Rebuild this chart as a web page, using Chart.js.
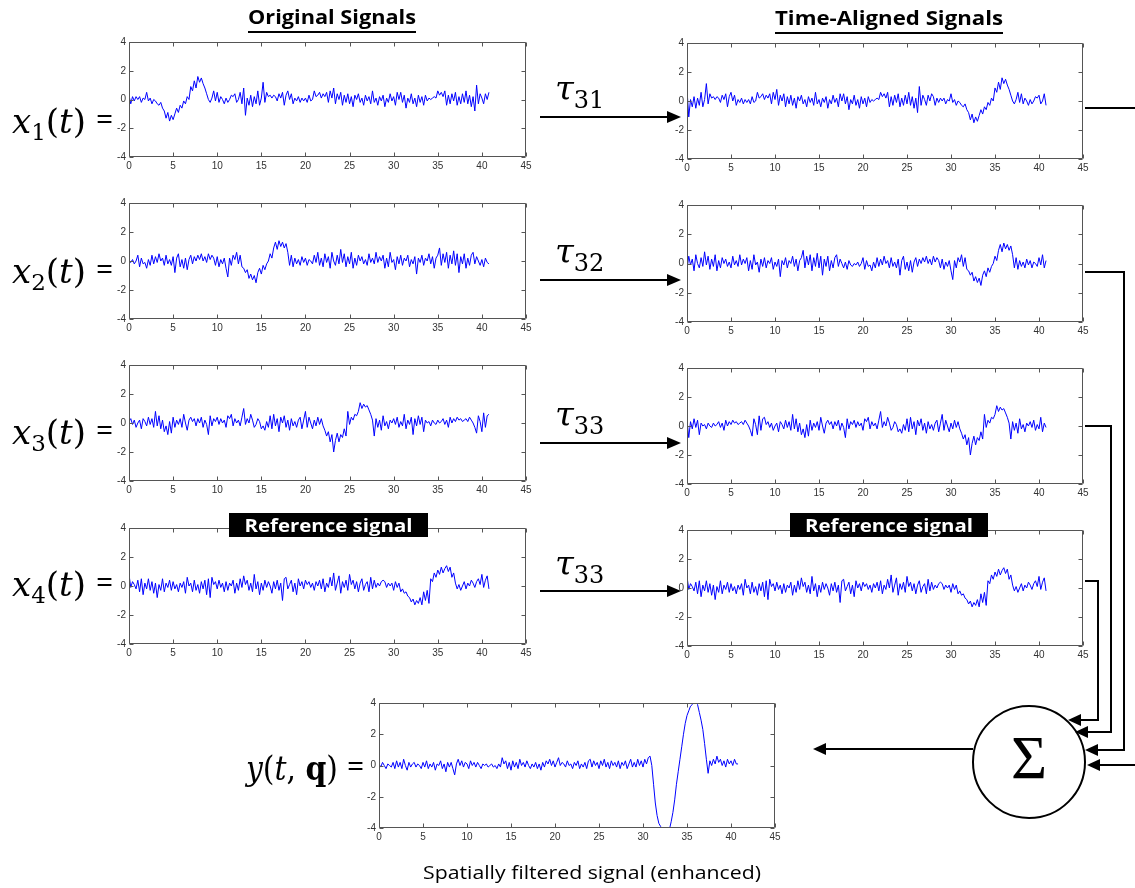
<!DOCTYPE html>
<html>
<head>
<meta charset="utf-8">
<title>Original vs time-aligned signals</title>
<script src="https://cdn.jsdelivr.net/npm/chart.js@4.4.1/dist/chart.umd.min.js"></script>
<style>
  html, body { margin: 0; padding: 0; background: #fff; }
  #page { position: relative; width: 1135px; height: 888px; overflow: hidden; background: #fff; }
  #page canvas { position: absolute; }
  #diagram { position: absolute; left: 0; top: 0; pointer-events: none; }
</style>
</head>
<body>
<div id="page">
  <canvas id="orig1"></canvas>
  <canvas id="orig2"></canvas>
  <canvas id="orig3"></canvas>
  <canvas id="orig4"></canvas>
  <canvas id="aligned1"></canvas>
  <canvas id="aligned2"></canvas>
  <canvas id="aligned3"></canvas>
  <canvas id="aligned4"></canvas>
  <canvas id="filtered"></canvas>

  <svg id="diagram" width="1135" height="888">
    <!-- column titles -->
    <g font-family="Open Sans" font-weight="700" font-size="19" fill="#000">
      <text x="248" y="24" textLength="168" lengthAdjust="spacingAndGlyphs">Original Signals</text>
      <text x="775" y="25" textLength="228" lengthAdjust="spacingAndGlyphs">Time-Aligned Signals</text>
    </g>
    <rect x="248" y="31" width="168" height="2" fill="#000"/>
    <rect x="775" y="32" width="228" height="2" fill="#000"/>

    <!-- reference badges -->
    <rect x="229" y="513" width="199" height="24" fill="#000"/>
    <rect x="790" y="513" width="198" height="24" fill="#000"/>
    <g font-family="Open Sans" font-weight="700" font-size="17" fill="#fff" text-anchor="middle">
      <text x="328.5" y="532" textLength="168" lengthAdjust="spacingAndGlyphs">Reference signal</text>
      <text x="889" y="532" textLength="168" lengthAdjust="spacingAndGlyphs">Reference signal</text>
    </g>

    <!-- row labels -->
    <g font-family="DejaVu Serif" font-size="34" fill="#000">
      <text x="12" y="133"><tspan font-style="italic">x</tspan><tspan font-size="23" dy="7">1</tspan><tspan dy="-7">(</tspan><tspan font-style="italic">t</tspan>)</text>
      <text x="12" y="283"><tspan font-style="italic">x</tspan><tspan font-size="23" dy="7">2</tspan><tspan dy="-7">(</tspan><tspan font-style="italic">t</tspan>)</text>
      <text x="12" y="444"><tspan font-style="italic">x</tspan><tspan font-size="23" dy="7">3</tspan><tspan dy="-7">(</tspan><tspan font-style="italic">t</tspan>)</text>
      <text x="12" y="596"><tspan font-style="italic">x</tspan><tspan font-size="23" dy="7">4</tspan><tspan dy="-7">(</tspan><tspan font-style="italic">t</tspan>)</text>
      <text x="246" y="780" textLength="92" lengthAdjust="spacingAndGlyphs"><tspan font-style="italic">y</tspan>(<tspan font-style="italic">t</tspan>, <tspan font-weight="bold">q</tspan>)</text>
    </g>
    <g font-family="Open Sans" font-size="30" fill="#000">
      <text x="96" y="129">=</text>
      <text x="96" y="279">=</text>
      <text x="96" y="440">=</text>
      <text x="96" y="592">=</text>
      <text x="347" y="776">=</text>
    </g>

    <!-- delays -->
    <g font-family="DejaVu Serif" font-size="34" fill="#000">
      <text x="555" y="100"><tspan font-style="italic">τ</tspan><tspan font-size="24" dy="8">31</tspan></text>
      <text x="555" y="263"><tspan font-style="italic">τ</tspan><tspan font-size="24" dy="8">32</tspan></text>
      <text x="555" y="426"><tspan font-style="italic">τ</tspan><tspan font-size="24" dy="8">33</tspan></text>
      <text x="555" y="575"><tspan font-style="italic">τ</tspan><tspan font-size="24" dy="8">33</tspan></text>
    </g>

    <!-- wiring -->
    <g stroke="#000" stroke-width="2" fill="none">
      <path d="M540 117H668"/>
      <path d="M540 280H668"/>
      <path d="M540 443H668"/>
      <path d="M540 591H668"/>
      <path d="M1085 108H1135"/>
      <path d="M1085 272H1124V750H1096"/>
      <path d="M1085 426H1111V732H1087"/>
      <path d="M1085 581H1098V720H1080"/>
      <path d="M1135 765H1098"/>
      <path d="M973 749H825"/>
      <circle cx="1029" cy="762" r="56"/>
    </g>
    <g fill="#000">
      <polygon points="667,111 681,117 667,123"/>
      <polygon points="667,274 681,280 667,286"/>
      <polygon points="667,437 681,443 667,449"/>
      <polygon points="667,585 681,591 667,597"/>
      <polygon points="1098,744 1085,750 1098,756"/>
      <polygon points="1088,726 1075,732 1088,738"/>
      <polygon points="1081,714 1068,720 1081,726"/>
      <polygon points="1100,759 1087,765 1100,771"/>
      <polygon points="826,743 813,749 826,755"/>
    </g>
    <text x="1029" y="778" text-anchor="middle" font-family="Liberation Serif" font-size="62" fill="#000">Σ</text>

    <text x="423" y="879" font-family="Open Sans" font-size="19" fill="#000" textLength="338" lengthAdjust="spacingAndGlyphs">Spatially filtered signal (enhanced)</text>
  </svg>
</div>

<script>
/**************************************
 *              DATA
 **************************************/
const TIME_STEP = 0.2;   // seconds between samples
const X_TICKS = [0, 5, 10, 15, 20, 25, 30, 35, 40, 45];
const Y_TICKS = [-4, -2, 0, 2, 4];

const x1Original = [
  0.3,-0.3,0.2,-0.1,0.2, 0.0,0.2,-0.2,0.1,0.0,
  0.5,-0.1,0.1,-0.3,0.0, -0.1,-0.3,-0.4,-0.2,-0.6,
  -0.8,-1.3,-0.9,-1.5,-1.1, -1.4,-1.0,-0.6,-0.9,-0.4,
  -0.6,-0.1,-0.3,0.2,0.0, 0.9,0.6,1.3,0.8,1.6,
  1.2,1.5,1.1,0.8,0.4, 0.0,-0.2,0.1,0.6,-0.1,
  0.5,-0.2,0.2,0.0,-0.3, 0.1,-0.2,0.0,0.3,0.2,
  0.4,-0.2,0.0,0.5,-0.3, 0.8,-1.1,0.1,-0.4,0.3,
  -0.5,0.2,-0.3,0.6,-0.4, 0.1,1.2,-0.2,0.5,0.2,
  0.3,0.1,0.3,0.2,-0.1, 0.4,0.1,0.5,-0.4,0.3,
  0.6,0.0,0.4,-0.3,0.1, -0.1,0.2,-0.2,0.1,-0.1,
  0.1,-0.2,0.3,-0.1,0.0, 0.6,0.2,0.3,0.5,0.1,
  0.4,0.2,0.5,-0.2,0.6, 0.1,0.8,-0.3,0.4,0.0,
  0.5,-0.4,0.3,-0.2,0.4, -0.3,0.2,-0.5,0.3,0.0,
  0.4,-0.2,0.1,-0.4,0.3, -0.1,0.2,-0.3,0.6,-0.2,
  0.1,-0.4,0.2,-0.1,0.3, -0.5,0.1,-0.2,0.4,-0.1,
  0.2,-0.4,0.5,0.0,0.5, -0.2,0.3,-0.6,0.1,-0.2,
  0.4,-0.3,0.1,-0.5,0.3, -0.2,0.2,-0.4,0.3,-0.1,
  0.1,0.0,0.1,0.2,0.1, 0.6,0.3,0.5,0.2,0.6,
  -0.4,0.3,-0.3,0.4,-0.1, 0.5,-0.4,0.2,-0.3,0.4,
  -0.2,0.6,-0.3,0.3,-0.5, 0.2,-0.8,1.0,-0.3,0.4,
  0.1,-0.3,0.4,0.0,0.5
];

const x2Original = [
  0.0,-0.1,0.1,-0.2,0.0, 0.4,-0.4,0.2,-0.2,-0.1,
  -0.5,0.1,-0.3,0.4,-0.2, 0.3,-0.1,0.5,0.0,0.2,
  -0.3,0.4,-0.2,0.1,-0.3, 0.3,-0.8,0.2,0.5,-0.4,
  0.1,-0.5,0.2,-0.6,0.1, 0.4,-0.2,0.3,0.0,0.4,
  0.1,0.5,0.0,0.3,-0.1, 0.5,0.1,0.4,0.2,-0.3,
  0.3,-0.4,0.1,-0.2,0.2, -0.5,-1.1,0.2,-0.3,0.4,
  0.1,0.6,-0.2,0.4,-0.4, -0.5,-0.8,-0.6,-1.2,-0.9,
  -1.3,-1.0,-1.5,-0.8,-0.5, -0.9,-0.3,-0.6,-0.2,0.0,
  0.5,0.2,0.9,1.3,0.8, 1.4,1.0,1.3,0.9,1.2,
  0.6,-0.3,0.4,-0.4,0.2, -0.2,0.1,-0.3,0.3,-0.1,
  0.2,-0.3,0.1,0.0,-0.2, 0.4,-0.1,0.6,-0.3,0.2,
  -0.4,0.5,-0.1,0.3,-0.5, 0.6,0.0,-0.3,0.4,-0.2,
  0.8,-0.1,0.5,-0.4,0.3, -0.2,0.6,-0.5,0.2,-0.3,
  0.4,0.0,0.3,-0.2,0.1, -0.3,0.5,-0.1,0.2,-0.2,
  0.6,-0.1,0.3,0.0,0.4, -0.5,0.2,-0.4,0.6,-0.1,
  0.1,-0.6,0.3,-0.2,0.4, -0.3,0.2,0.0,0.4,-0.4,
  0.1,-0.2,0.3,-0.9,0.2, -0.1,0.4,-0.3,0.2,0.0,
  0.5,-0.2,0.3,-0.5,0.2, 0.4,0.9,-0.3,0.5,-0.1,
  0.6,-0.5,0.4,-0.2,0.7, -0.3,0.5,-0.8,0.3,-0.2,
  0.5,-0.5,0.2,-0.3,0.4, 0.6,-0.2,0.3,0.0,-0.3,
  0.1,-0.4,0.2,-0.1,-0.2
];

const x3Original = [
  0.1,0.3,-0.1,0.2,-0.3, 0.0,0.2,-0.4,0.3,0.1,
  -0.2,0.4,-0.1,0.3,-0.3, 0.8,-0.2,0.5,-0.4,0.2,
  -0.6,-0.2,-0.8,0.1,-0.7, 0.4,-0.3,0.2,-0.1,0.3,
  -0.3,0.6,0.0,-0.5,0.2, 0.4,0.1,0.3,-0.2,0.3,
  0.0,0.4,-0.3,0.2,-0.1, -0.8,0.5,-0.2,0.3,0.1,
  0.4,-0.1,0.3,0.0,0.2, -0.3,0.5,0.3,0.6,-0.2,
  0.3,0.0,0.2,-0.2,0.4, 1.0,-0.1,0.3,0.0,0.6,
  0.2,-0.3,-0.1,0.3,0.1, -0.4,-0.2,-0.5,0.1,-0.3,
  0.5,-0.4,0.6,-0.2,0.3, -0.6,0.4,0.0,0.5,-0.3,
  0.2,-0.5,0.3,-0.2,0.1, -0.3,0.2,0.4,-0.4,0.2,
  0.8,-0.3,0.4,0.0,-0.4, 0.2,-0.2,0.4,-0.1,0.3,
  -0.2,-0.5,-0.9,-0.6,-1.3, -0.8,-2.0,-1.2,-0.7,-1.3,
  -0.8,-1.0,-0.4,-0.9,0.8, -0.1,0.4,0.2,0.6,0.5,
  0.8,1.4,1.0,1.3,1.1, 1.2,0.9,0.6,0.2,-0.9,
  0.3,-0.3,0.2,-0.5,0.5, -0.2,0.1,-0.4,0.2,0.0,
  0.3,-0.1,0.4,-0.3,0.1, -0.2,0.6,-0.4,0.2,-0.1,
  0.4,-0.8,0.3,-0.2,0.5, -0.1,0.4,-0.6,0.2,0.0,
  0.1,-0.2,0.2,0.0,-0.1, 0.2,0.0,0.1,0.3,-0.1,
  0.2,-0.3,0.4,0.0,0.3, 0.1,0.4,0.2,0.3,0.1,
  0.2,0.3,0.1,0.4,0.2, 0.0,-0.3,-0.7,0.5,0.1,
  -0.6,0.7,-0.3,0.5,0.6
];

// x4 is the reference: it is the same before and after alignment
const x4Reference = [
  0.8,-0.1,0.3,0.1,-0.2, 0.4,-0.4,0.5,-0.6,0.2,
  -0.2,0.5,-0.3,0.3,-0.5, 0.2,-0.8,0.1,-0.3,0.5,
  -0.4,0.2,-0.1,0.4,-0.3, 0.3,-0.2,0.1,-0.4,0.2,
  -0.1,0.3,-0.5,0.6,0.0, 0.2,-0.4,0.4,-0.3,0.1,
  -0.5,0.3,-0.2,0.4,-0.6, 0.5,-0.8,0.6,0.1,0.3,
  -0.2,0.4,-0.1,0.2,-0.4, 0.3,-0.3,0.2,0.0,0.4,
  -0.5,0.2,-0.3,0.5,-0.1, 0.7,0.1,0.4,-0.3,0.2,
  -0.4,0.8,-0.2,0.3,-0.6, 0.2,-0.3,0.4,-0.1,0.3,
  0.0,-0.5,0.3,-0.2,0.4, -0.3,0.2,-1.0,0.5,0.6,
  -0.2,0.1,0.4,-0.4,0.2, -0.6,0.5,0.0,0.3,-0.2,
  0.4,0.1,0.3,-0.1,0.2, -0.3,0.3,0.0,0.4,-0.2,
  0.5,-0.4,0.2,-0.1,0.6, 0.0,0.9,-0.3,0.2,0.7,
  -0.5,0.3,-0.1,0.4,-0.3, 0.8,0.1,0.4,-0.2,0.3,
  -0.4,0.2,0.5,-0.3,0.1, 0.3,-0.4,0.6,-0.2,0.4,
  -0.1,0.2,0.0,0.3,0.4, 0.3,-0.1,0.2,0.0,0.2,
  -0.3,0.3,-0.1,0.2,-0.4, -0.2,-0.5,-0.4,-0.7,-0.8,
  -1.1,-0.9,-1.3,-1.0,-1.2, -0.8,-1.3,-0.4,-1.0,-0.3,
  -1.2,0.5,0.3,0.9,0.6, 1.1,0.8,1.3,0.9,1.2,
  1.4,1.0,1.3,0.6,0.9, 0.2,-0.2,0.1,-0.3,0.0,
  0.3,-0.2,0.2,0.0,0.4, 0.2,-0.1,0.3,0.5,0.1,
  0.8,-0.1,0.4,0.7,-0.2
];

const x1Aligned = [
  0.8,-1.1,0.1,-0.4,0.3, -0.5,0.2,-0.3,0.6,-0.4,
  0.1,1.2,-0.2,0.5,0.2, 0.3,0.1,0.3,0.2,-0.1,
  0.4,0.1,0.5,-0.4,0.3, 0.6,0.0,0.4,-0.3,0.1,
  -0.1,0.2,-0.2,0.1,-0.1, 0.1,-0.2,0.3,-0.1,0.0,
  0.6,0.2,0.3,0.5,0.1, 0.4,0.2,0.5,-0.2,0.6,
  0.1,0.8,-0.3,0.4,0.0, 0.5,-0.4,0.3,-0.2,0.4,
  -0.3,0.2,-0.5,0.3,0.0, 0.4,-0.2,0.1,-0.4,0.3,
  -0.1,0.2,-0.3,0.6,-0.2, 0.1,-0.4,0.2,-0.1,0.3,
  -0.5,0.1,-0.2,0.4,-0.1, 0.2,-0.4,0.5,0.0,0.5,
  -0.2,0.3,-0.6,0.1,-0.2, 0.4,-0.3,0.1,-0.5,0.3,
  -0.2,0.2,-0.4,0.3,-0.1, 0.1,0.0,0.1,0.2,0.1,
  0.6,0.3,0.5,0.2,0.6, -0.4,0.3,-0.3,0.4,-0.1,
  0.5,-0.4,0.2,-0.3,0.4, -0.2,0.6,-0.3,0.3,-0.5,
  0.2,-0.8,1.0,-0.3,0.4, 0.1,-0.3,0.4,0.0,0.5,
  0.3,-0.3,0.2,-0.1,0.2, 0.0,0.2,-0.2,0.1,0.0,
  0.5,-0.1,0.1,-0.3,0.0, -0.1,-0.3,-0.4,-0.2,-0.6,
  -0.8,-1.3,-0.9,-1.5,-1.1, -1.4,-1.0,-0.6,-0.9,-0.4,
  -0.6,-0.1,-0.3,0.2,0.0, 0.9,0.6,1.3,0.8,1.6,
  1.2,1.5,1.1,0.8,0.4, 0.0,-0.2,0.1,0.6,-0.1,
  0.5,-0.2,0.2,0.0,-0.3, 0.1,-0.2,0.0,0.3,0.2,
  0.4,-0.2,0.0,0.5,-0.3
];

const x2Aligned = [
  -0.4,0.5,-0.1,0.3,-0.5, 0.6,0.0,-0.3,0.4,-0.2,
  0.8,-0.1,0.5,-0.4,0.3, -0.2,0.6,-0.5,0.2,-0.3,
  0.4,0.0,0.3,-0.2,0.1, -0.3,0.5,-0.1,0.2,-0.2,
  0.6,-0.1,0.3,0.0,0.4, -0.5,0.2,-0.4,0.6,-0.1,
  0.1,-0.6,0.3,-0.2,0.4, -0.3,0.2,0.0,0.4,-0.4,
  0.1,-0.2,0.3,-0.9,0.2, -0.1,0.4,-0.3,0.2,0.0,
  0.5,-0.2,0.3,-0.5,0.2, 0.4,0.9,-0.3,0.5,-0.1,
  0.6,-0.5,0.4,-0.2,0.7, -0.3,0.5,-0.8,0.3,-0.2,
  0.5,-0.5,0.2,-0.3,0.4, 0.6,-0.2,0.3,0.0,-0.3,
  0.1,-0.4,0.2,-0.1,-0.2, 0.0,-0.1,0.1,-0.2,0.0,
  0.4,-0.4,0.2,-0.2,-0.1, -0.5,0.1,-0.3,0.4,-0.2,
  0.3,-0.1,0.5,0.0,0.2, -0.3,0.4,-0.2,0.1,-0.3,
  0.3,-0.8,0.2,0.5,-0.4, 0.1,-0.5,0.2,-0.6,0.1,
  0.4,-0.2,0.3,0.0,0.4, 0.1,0.5,0.0,0.3,-0.1,
  0.5,0.1,0.4,0.2,-0.3, 0.3,-0.4,0.1,-0.2,0.2,
  -0.5,-1.1,0.2,-0.3,0.4, 0.1,0.6,-0.2,0.4,-0.4,
  -0.5,-0.8,-0.6,-1.2,-0.9, -1.3,-1.0,-1.5,-0.8,-0.5,
  -0.9,-0.3,-0.6,-0.2,0.0, 0.5,0.2,0.9,1.3,0.8,
  1.4,1.0,1.3,0.9,1.2, 0.6,-0.3,0.4,-0.4,0.2,
  -0.2,0.1,-0.3,0.3,-0.1, 0.2,-0.3,0.1,0.0,-0.2,
  0.4,-0.1,0.6,-0.3,0.2
];

const x3Aligned = [
  0.4,-0.8,0.3,-0.2,0.5, -0.1,0.4,-0.6,0.2,0.0,
  0.1,-0.2,0.2,0.0,-0.1, 0.2,0.0,0.1,0.3,-0.1,
  0.2,-0.3,0.4,0.0,0.3, 0.1,0.4,0.2,0.3,0.1,
  0.2,0.3,0.1,0.4,0.2, 0.0,-0.3,-0.7,0.5,0.1,
  -0.6,0.7,-0.3,0.5,0.6, 0.1,0.3,-0.1,0.2,-0.3,
  0.0,0.2,-0.4,0.3,0.1, -0.2,0.4,-0.1,0.3,-0.3,
  0.8,-0.2,0.5,-0.4,0.2, -0.6,-0.2,-0.8,0.1,-0.7,
  0.4,-0.3,0.2,-0.1,0.3, -0.3,0.6,0.0,-0.5,0.2,
  0.4,0.1,0.3,-0.2,0.3, 0.0,0.4,-0.3,0.2,-0.1,
  -0.8,0.5,-0.2,0.3,0.1, 0.4,-0.1,0.3,0.0,0.2,
  -0.3,0.5,0.3,0.6,-0.2, 0.3,0.0,0.2,-0.2,0.4,
  1.0,-0.1,0.3,0.0,0.6, 0.2,-0.3,-0.1,0.3,0.1,
  -0.4,-0.2,-0.5,0.1,-0.3, 0.5,-0.4,0.6,-0.2,0.3,
  -0.6,0.4,0.0,0.5,-0.3, 0.2,-0.5,0.3,-0.2,0.1,
  -0.3,0.2,0.4,-0.4,0.2, 0.8,-0.3,0.4,0.0,-0.4,
  0.2,-0.2,0.4,-0.1,0.3, -0.2,-0.5,-0.9,-0.6,-1.3,
  -0.8,-2.0,-1.2,-0.7,-1.3, -0.8,-1.0,-0.4,-0.9,0.8,
  -0.1,0.4,0.2,0.6,0.5, 0.8,1.4,1.0,1.3,1.1,
  1.2,0.9,0.6,0.2,-0.9, 0.3,-0.3,0.2,-0.5,0.5,
  -0.2,0.1,-0.4,0.2,0.0, 0.3,-0.1,0.4,-0.3,0.1,
  -0.2,0.6,-0.4,0.2,-0.1
];

const yFiltered = [
  0.1,-0.1,0.2,0.0,-0.2, 0.1,0.0,-0.1,0.2,-0.2,
  0.3,-0.1,0.2,-0.2,0.4, 0.0,-0.3,0.2,-0.1,0.1,
  0.2,-0.1,0.1,0.0,-0.2, 0.2,-0.1,0.3,-0.2,0.1,
  -0.1,0.2,-0.3,0.1,0.0, 0.3,-0.2,0.1,-0.4,0.2,
  -0.1,0.2,-0.2,-0.6,0.1, 0.4,0.0,0.3,-0.1,0.2,
  0.1,-0.2,0.3,0.0,0.2, -0.1,0.2,0.0,-0.2,0.1,
  0.0,0.1,-0.1,0.0,0.1, -0.1,0.0,-0.2,0.1,-0.1,
  0.5,0.1,0.3,-0.2,0.2, -0.3,0.3,-0.1,0.2,-0.2,
  0.4,0.0,0.2,-0.1,0.3, 0.0,-0.2,0.1,-0.1,0.2,
  -0.2,0.1,-0.3,0.2,-0.1, 0.3,0.1,0.4,0.0,0.3,
  -0.1,0.2,0.5,0.0,0.2, 0.1,-0.1,0.3,0.0,0.1,
  -0.2,0.2,0.0,0.3,-0.2, 0.1,-0.1,0.2,-0.2,0.3,
  0.4,-0.1,0.3,0.0,0.2, -0.2,0.3,0.0,0.4,-0.1,
  0.2,-0.2,0.3,0.0,0.2, -0.1,0.3,-0.2,0.2,0.0,
  0.3,-0.2,0.1,0.4,-0.1, 0.2,-0.1,0.4,0.0,0.3,
  -0.1,0.4,0.1,0.5,0.6, 0.0,-1.2,-2.4,-3.2,-3.7,
  -3.9,-4.1,-4.2,-4.2,-4.2, -4.1,-3.6,-3.0,-2.2,-1.2,
  -0.4,0.4,1.2,2.0,2.7, 3.2,3.5,3.8,3.9,4.1,
  4.2,3.9,3.4,2.9,2.3, 1.4,0.4,-0.5,0.3,0.0,
  0.4,0.1,0.6,0.2,0.4, 0.0,0.3,-0.1,0.4,0.1,
  0.3,0.0,0.4,0.1,0.1
];

/**************************************
 *        PLOT PLACEMENT (px)
 **************************************/
// [left, top, width, height] of each axes box
const PLOTS = [
  { id: "orig1", series: x1Original, box: [129, 42, 397, 115] },
  { id: "orig2", series: x2Original, box: [129, 203, 397, 116] },
  { id: "orig3", series: x3Original, box: [129, 365, 397, 116] },
  { id: "orig4", series: x4Reference, box: [129, 528, 397, 116] },
  { id: "aligned1", series: x1Aligned, box: [687, 43, 396, 116] },
  { id: "aligned2", series: x2Aligned, box: [687, 205, 396, 117] },
  { id: "aligned3", series: x3Aligned, box: [687, 368, 396, 116] },
  { id: "aligned4", series: x4Reference, box: [687, 530, 396, 116] },
  { id: "filtered", series: yFiltered, box: [379, 703, 396, 125] }
];

/**************************************
 *   MATLAB STYLE FRAME + INNER TICKS
 **************************************/
const matlabFrame = {
  id: "matlabFrame",
  afterDraw(chart) {
    const { ctx, chartArea: a } = chart;
    const sx = chart.scales.x;
    const sy = chart.scales.y;
    const L = Math.round(a.left) + 0.5;
    const R = Math.round(a.right) - 0.5;
    const T = Math.round(a.top) + 0.5;
    const B = Math.round(a.bottom) - 0.5;
    ctx.save();
    ctx.strokeStyle = "#555";
    ctx.lineWidth = 1;
    ctx.beginPath();
    ctx.rect(L, T, R - L, B - T);
    X_TICKS.forEach(v => {
      const px = Math.round(sx.getPixelForValue(v)) + 0.5;
      ctx.moveTo(px, B); ctx.lineTo(px, B - 4);
      ctx.moveTo(px, T); ctx.lineTo(px, T + 4);
    });
    Y_TICKS.forEach(v => {
      const py = Math.round(sy.getPixelForValue(v)) + 0.5;
      ctx.moveTo(L, py); ctx.lineTo(L + 4, py);
      ctx.moveTo(R, py); ctx.lineTo(R - 4, py);
    });
    ctx.stroke();
    ctx.restore();
  }
};

/**************************************
 *            BUILD ONE PLOT
 **************************************/
function makePlot(cfg) {
  const [bx, by, bw, bh] = cfg.box;
  const padL = 34, padT = 10, padR = 18, padB = 20;
  const canvas = document.getElementById(cfg.id);
  canvas.width = bw + padL + padR;
  canvas.height = bh + padT + padB;
  canvas.style.left = (bx - padL) + "px";
  canvas.style.top = (by - padT) + "px";

  const points = cfg.series.map((v, i) => ({ x: +(i * TIME_STEP).toFixed(1), y: v }));
  const tickFont = { family: "Liberation Sans", size: cfg.fontSize || 10 };

  new Chart(canvas, {
    type: "line",
    data: {
      datasets: [{
        data: points,
        borderColor: "#0000ff",
        borderWidth: 1,
        pointRadius: 0,
        tension: 0,
        fill: false
      }]
    },
    options: {
      responsive: false,
      animation: false,
      devicePixelRatio: 1,
      events: [],
      layout: { padding: { left: 0, top: padT, right: padR, bottom: 0 } },
      plugins: { legend: { display: false }, tooltip: { enabled: false } },
      scales: {
        x: {
          type: "linear",
          min: 0,
          max: 45,
          afterBuildTicks: axis => { axis.ticks = X_TICKS.map(v => ({ value: v })); },
          afterFit: axis => { axis.height = padB; },
          grid: { display: false, drawTicks: false },
          border: { display: false },
          ticks: { color: "#333", font: tickFont, padding: 3, maxRotation: 0, autoSkip: false }
        },
        y: {
          type: "linear",
          min: -4,
          max: 4,
          afterBuildTicks: axis => { axis.ticks = Y_TICKS.map(v => ({ value: v })); },
          afterFit: axis => { axis.width = padL; },
          grid: { display: false, drawTicks: false },
          border: { display: false },
          ticks: { color: "#333", font: tickFont, padding: 3 }
        }
      }
    },
    plugins: [matlabFrame]
  });
}

/**************************************
 *              START
 **************************************/
PLOTS.forEach(makePlot);
</script>
</body>
</html>
